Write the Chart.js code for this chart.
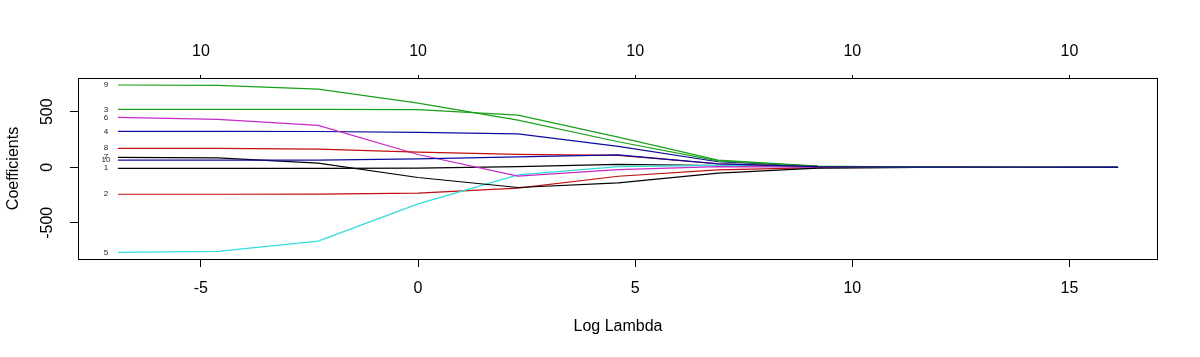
<!DOCTYPE html>
<html>
<head>
<meta charset="utf-8">
<script src="https://cdn.jsdelivr.net/npm/chart.js@4.4.0/dist/chart.umd.min.js"></script>
<style>
  html, body { margin: 0; padding: 0; background: #ffffff; }
  #wrap { width: 1200px; height: 357px; }
</style>
</head>
<body>
<div id="wrap"><canvas id="c" width="1200" height="357"></canvas></div>
<script>
// ---- data ----
const logLambda = [-6.91, -4.61, -2.30, 0.00, 2.30, 4.61, 6.91, 9.21, 11.51, 13.82, 16.12];
const coef1  = [-9, -9, -9, -7, 5, 27, 16, 3, 0.3, 0.03, 0];
const coef2  = [-243, -243, -241, -232, -188, -81, -24, -4, -0.4, -0.04, 0];
const coef3  = [522, 522, 522, 520, 470, 272, 65, 10, 1, 0.1, 0];
const coef4  = [324, 324, 322, 315, 300, 189, 50, 8, 0.8, 0.08, 0];
const coef5  = [-766, -757, -665, -330, -68, 5, 18, 3, 0.3, 0.03, 0];
const coef6  = [450, 432, 377, 115, -80, -22, 6, 1, 0.1, 0.01, 0];
const coef7  = [90, 84, 38, -92, -182, -141, -52, -8, -1, -0.1, 0];
const coef8  = [171, 171, 163, 137, 117, 108, 32, 5, 0.5, 0.05, 0];
const coef9  = [741, 738, 703, 578, 425, 230, 58, 9, 1, 0.1, 0];
const coef10 = [65, 65, 65, 75, 93, 112, 30, 5, 0.5, 0.05, 0];
const seriesNames = ["1","2","3","4","5","6","7","8","9","10"];
const xTicks = [-5, 0, 5, 10, 15];
const yTicks = [-500, 0, 500];
const topLabels = ["10", "10", "10", "10", "10"];

const allCoef = [coef1, coef2, coef3, coef4, coef5, coef6, coef7, coef8, coef9, coef10];
const palette = ["#000000", "#c01010", "#1aa01a", "#0c0c9c", "#33dcdc", "#c828c8"];
const FONT = "'Liberation Sans', Arial, sans-serif";

const datasets = allCoef.map((vals, i) => ({
  label: seriesNames[i],
  data: logLambda.map((x, j) => ({ x: x, y: vals[j] })),
  borderColor: palette[i % 6],
  backgroundColor: palette[i % 6],
  borderWidth: 1.2,
  pointRadius: 0,
  showLine: true,
  tension: 0,
  order: 10 - i
}));

const overlay = {
  id: 'overlay',
  afterDraw(chart) {
    const ctx = chart.ctx;
    const a = chart.chartArea;
    const xs = chart.scales.x, ys = chart.scales.y;
    ctx.save();
    // box
    ctx.strokeStyle = '#000';
    ctx.lineWidth = 1;
    ctx.strokeRect(Math.round(a.left) + 0.5, Math.round(a.top) + 0.5,
                   Math.round(a.right - a.left) - 1, Math.round(a.bottom - a.top));
    // y tick labels, rotated
    ctx.fillStyle = '#000';
    ctx.font = '16px ' + FONT;
    ctx.textAlign = 'center';
    ctx.textBaseline = 'middle';
    yTicks.forEach(v => {
      const py = ys.getPixelForValue(v);
      ctx.save();
      ctx.translate(48, py);
      ctx.rotate(-Math.PI / 2);
      ctx.fillText(String(v), 0, 0);
      ctx.restore();
    });
    // y title
    ctx.save();
    ctx.translate(14, (a.top + a.bottom) / 2);
    ctx.rotate(-Math.PI / 2);
    ctx.fillText('Coefficients', 0, 0);
    ctx.restore();
    // x title
    ctx.fillText('Log Lambda', (a.left + a.right) / 2, 327);
    // series labels at the left end
    ctx.font = '8px ' + FONT;
    ctx.fillStyle = '#222';
    const lx = xs.getPixelForValue(logLambda[0]) - 12;
    allCoef.forEach((vals, i) => {
      ctx.fillText(seriesNames[i], lx, ys.getPixelForValue(vals[0]));
    });
    ctx.restore();
  }
};

new Chart(document.getElementById('c'), {
  type: 'scatter',
  data: { datasets: datasets },
  options: {
    responsive: false,
    animation: false,
    devicePixelRatio: 1,
    layout: { padding: { left: 0, right: 42, top: 0, bottom: 0 } },
    plugins: { legend: { display: false }, tooltip: { enabled: false } },
    scales: {
      x: {
        type: 'linear', position: 'bottom',
        min: -7.83, max: 17.04,
        afterBuildTicks: s => { s.ticks = xTicks.map(v => ({ value: v })); },
        afterFit: s => { s.height = 98; },
        grid: { drawOnChartArea: false, drawTicks: true, tickLength: 8, color: '#000', tickColor: '#000' },
        border: { display: false },
        ticks: { color: '#000', font: { size: 16, family: FONT }, padding: 12, maxRotation: 0, autoSkip: false }
      },
      x2: {
        type: 'linear', position: 'top',
        min: -7.83, max: 17.04,
        afterBuildTicks: s => { s.ticks = xTicks.map(v => ({ value: v })); },
        afterFit: s => { s.height = 78; },
        grid: { drawOnChartArea: false, drawTicks: true, tickLength: 3, color: '#000', tickColor: '#000' },
        border: { display: false },
        ticks: { color: '#000', font: { size: 16, family: FONT }, padding: 14, maxRotation: 0, autoSkip: false,
                 callback: (v, idx) => topLabels[idx] }
      },
      y: {
        type: 'linear', position: 'left',
        min: -826, max: 804,
        afterBuildTicks: s => { s.ticks = yTicks.map(v => ({ value: v })); },
        afterFit: s => { s.width = 78; },
        grid: { drawOnChartArea: false, drawTicks: true, tickLength: 8, color: '#000', tickColor: '#000' },
        border: { display: false },
        ticks: { display: false }
      }
    }
  },
  plugins: [overlay]
});
</script>
</body>
</html>
